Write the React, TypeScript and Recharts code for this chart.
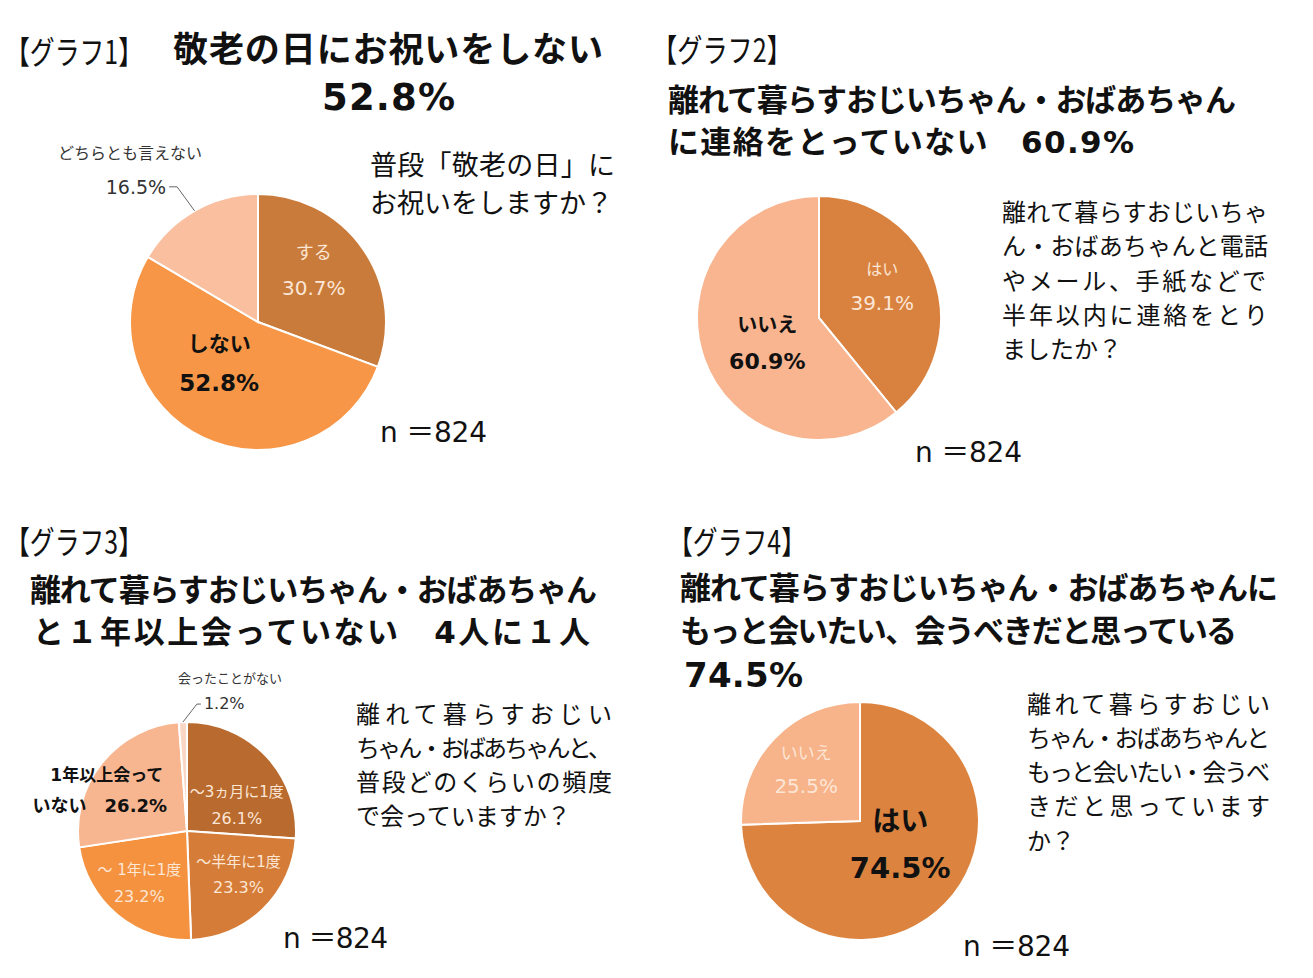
import React from "react"
import { PieChart, Pie, Cell } from "recharts"

const FONT_JP = '"Noto Sans CJK JP", sans-serif'
const FONT_MIX = '"DejaVu Sans", "Noto Sans CJK JP", sans-serif'

// グラフ1 敬老の日にお祝いをしますか
const g1Names = ["する", "しない", "どちらとも言えない"]
const g1Values = [30.7, 52.8, 16.5]

// グラフ2 半年以内に連絡をとりましたか
const g2Names = ["はい", "いいえ"]
const g2Values = [39.1, 60.9]

// グラフ3 会う頻度
const g3Names = ["～3ヵ月に1度", "～半年に1度", "～ 1年に1度", "1年以上会っていない", "会ったことがない"]
const g3Values = [26.1, 23.3, 23.2, 26.2, 1.2]

// グラフ4 もっと会いたいか
const g4Names = ["はい", "いいえ"]
const g4Values = [74.5, 25.5]

const g1Colors = ["#C97B3B", "#F79646", "#F9BF9E"]
const g2Colors = ["#D9823F", "#F8B58F"]
const g3Colors = ["#B96A2E", "#D47C38", "#F5923F", "#F8B690", "#FAD6C4"]
const g4Colors = ["#DC843F", "#F7B38A"]

const toRows = (names: string[], values: number[]) =>
  names.map((name, i) => ({ name, value: values[i] }))

type Outside = {
  ex: number
  ey: number
  tail: number
  vdx: number
  vdy: number
  anchor: "start" | "end"
  ndx: number
  ndy: number
  nameSize: number
  valueSize: number
}

type Spec = {
  k?: number
  dx?: number
  dy?: number
  gap?: number
  sizes?: [number, number]
  fill?: string
  bold?: boolean
  split?: number
  line1Dx?: number
  out?: Outside
}

const LIGHT = "#FCE6D6"
const DARK = "#111"

const g1Spec: Spec[] = [
  { k: 0.53, dy: -13, gap: 35, sizes: [18, 20], fill: LIGHT },
  { k: 0.45, dx: -14, dy: -10, gap: 39, sizes: [21, 23], fill: DARK, bold: true },
  { out: { ex: -17.5, ey: -24, tail: -8, vdx: -3, vdy: 0, anchor: "end", ndx: -64.5, ndy: -58.8, nameSize: 16, valueSize: 19 } },
]
const g2Spec: Spec[] = [
  { k: 0.55, dy: -9, gap: 33, sizes: [16, 20], fill: LIGHT },
  { k: 0.45, dy: 7, gap: 37, sizes: [20, 22], fill: DARK, bold: true },
]
const g3Spec: Spec[] = [
  { k: 0.6, dx: 2, dy: 19, gap: 26, sizes: [15, 16], fill: LIGHT },
  { k: 0.6, dx: 6, dy: -3, gap: 26, sizes: [15, 16], fill: LIGHT },
  { k: 0.6, dx: -6, dy: 2, gap: 26, sizes: [15, 16], fill: LIGHT },
  { k: 0.6, dx: -36, dy: 0, gap: 30, sizes: [17, 18], fill: DARK, bold: true, split: 7, line1Dx: 7 },
  { out: { ex: 14, ey: -18, tail: 4, vdx: 3, vdy: -1, anchor: "start", ndx: 47, ndy: -45, nameSize: 13, valueSize: 16 } },
]
const g4Spec: Spec[] = [
  { k: 0.47, dy: -15, gap: 46, sizes: [28, 29], fill: DARK, bold: true },
  { k: 0.63, dy: 1, gap: 33, sizes: [17, 20], fill: LIGHT },
]

const RAD = Math.PI / 180

function makeLabel(specs: Spec[]) {
  return (p: any) => {
    const s = specs[p.index]
    const cx = Number(p.cx)
    const cy = Number(p.cy)
    const r = Number(p.outerRadius)
    const cos = Math.cos(-p.midAngle * RAD)
    const sin = Math.sin(-p.midAngle * RAD)
    const name: string = p.name
    const pct = `${Number(p.value).toFixed(1)}%`

    if (s.out) {
      const o = s.out
      const x0 = cx + r * cos
      const y0 = cy + r * sin
      const x1 = x0 + o.ex
      const y1 = y0 + o.ey
      const x2 = x1 + o.tail
      return (
        <g>
          <polyline points={`${x0},${y0} ${x1},${y1} ${x2},${y1}`} fill="none" stroke="#666" strokeWidth={1} />
          <text x={x2 + o.vdx} y={y1 + o.vdy} fontSize={o.valueSize} fontFamily={FONT_MIX} fill="#333"
            textAnchor={o.anchor} dominantBaseline="central">{pct}</text>
          <text x={x0 + o.ndx} y={y0 + o.ndy} fontSize={o.nameSize} fontFamily={FONT_JP} fill="#333"
            textAnchor="middle" dominantBaseline="central">{name}</text>
        </g>
      )
    }

    const x = cx + r * (s.k ?? 0.5) * cos + (s.dx ?? 0)
    const y = cy + r * (s.k ?? 0.5) * sin + (s.dy ?? 0)
    const gap = s.gap ?? 30
    const [s1, s2] = s.sizes ?? [16, 18]
    const line1 = s.split ? name.slice(0, s.split) : name
    const line2 = s.split ? `${name.slice(s.split)}　${pct}` : pct
    const weight = s.bold ? 700 : 400
    return (
      <g>
        <text x={x + (s.line1Dx ?? 0)} y={y - gap / 2} fontSize={s1} fontWeight={weight} fontFamily={FONT_MIX}
          fill={s.fill} textAnchor="middle" dominantBaseline="central">{line1}</text>
        <text x={x} y={y + gap / 2} fontSize={s2} fontWeight={weight} fontFamily={FONT_MIX}
          fill={s.fill} textAnchor="middle" dominantBaseline="central">{line2}</text>
      </g>
    )
  }
}

type TxtProps = {
  x: number
  y: number
  size: number
  bold?: boolean
  len?: number
  squeeze?: boolean
  anchor?: "start" | "middle" | "end"
  family?: string
  children: React.ReactNode
}

function Txt({ x, y, size, bold, len, squeeze, anchor = "start", family = FONT_MIX, children }: TxtProps) {
  return (
    <text x={x} y={y} fontSize={size} fontWeight={bold ? 700 : 400} fontFamily={family} fill="#111"
      textAnchor={anchor} dominantBaseline="central" textLength={len}
      lengthAdjust={len ? (squeeze ? "spacingAndGlyphs" : "spacing") : undefined}>
      {children}
    </text>
  )
}

export default function App() {
  return (
    <div style={{ position: "absolute", left: 0, top: 0, width: 1313, height: 978, background: "#fff" }}>
      <PieChart width={1313} height={978} margin={{ top: 0, right: 0, bottom: 0, left: 0 }}>
        <Pie data={toRows(g1Names, g1Values)} dataKey="value" nameKey="name" cx={258} cy={322} outerRadius={128}
          startAngle={90} endAngle={-270} stroke="#fff" strokeWidth={2} label={makeLabel(g1Spec)} labelLine={false}
          isAnimationActive={false}>
          {g1Colors.map((c) => <Cell key={c} fill={c} />)}
        </Pie>
        <Pie data={toRows(g2Names, g2Values)} dataKey="value" nameKey="name" cx={819} cy={318} outerRadius={122}
          startAngle={90} endAngle={-270} stroke="#fff" strokeWidth={2} label={makeLabel(g2Spec)} labelLine={false}
          isAnimationActive={false}>
          {g2Colors.map((c) => <Cell key={c} fill={c} />)}
        </Pie>
        <Pie data={toRows(g3Names, g3Values)} dataKey="value" nameKey="name" cx={187} cy={831} outerRadius={109}
          startAngle={90} endAngle={-270} stroke="#fff" strokeWidth={2} label={makeLabel(g3Spec)} labelLine={false}
          isAnimationActive={false}>
          {g3Colors.map((c) => <Cell key={c} fill={c} />)}
        </Pie>
        <Pie data={toRows(g4Names, g4Values)} dataKey="value" nameKey="name" cx={860} cy={821} outerRadius={119}
          startAngle={90} endAngle={-270} stroke="#fff" strokeWidth={2} label={makeLabel(g4Spec)} labelLine={false}
          isAnimationActive={false}>
          {g4Colors.map((c) => <Cell key={c} fill={c} />)}
        </Pie>
      </PieChart>

      <svg width={1313} height={978} style={{ position: "absolute", left: 0, top: 0, pointerEvents: "none" }}>
        {/* グラフ1 */}
        <Txt x={5} y={50} size={32} len={138} squeeze family={FONT_JP}>【グラフ1】</Txt>
        <Txt x={173} y={50} size={35} bold len={430}>敬老の日にお祝いをしない</Txt>
        <Txt x={322} y={97} size={37} bold len={133}>52.8%</Txt>
        <Txt x={370} y={165} size={27} len={245}>普段「敬老の日」に</Txt>
        <Txt x={370} y={203} size={27} len={243}>お祝いをしますか？</Txt>
        <Txt x={380} y={432} size={28} len={107}>n ＝824</Txt>

        {/* グラフ2 */}
        <Txt x={652} y={48} size={32} len={140} squeeze family={FONT_JP}>【グラフ2】</Txt>
        <Txt x={668} y={100} size={31} bold len={568}>離れて暮らすおじいちゃん・おばあちゃん</Txt>
        <Txt x={668} y={142} size={31} bold len={466}>に連絡をとっていない　60.9%</Txt>
        <Txt x={1002} y={213} size={24} len={266}>離れて暮らすおじいちゃ</Txt>
        <Txt x={1002} y={247} size={24} len={266}>ん・おばあちゃんと電話</Txt>
        <Txt x={1002} y={282} size={24} len={264}>やメール、手紙などで</Txt>
        <Txt x={1002} y={316} size={24} len={266}>半年以内に連絡をとり</Txt>
        <Txt x={1002} y={350} size={24}>ましたか？</Txt>
        <Txt x={915} y={452} size={28} len={107}>n ＝824</Txt>

        {/* グラフ3 */}
        <Txt x={5} y={540} size={32} len={138} squeeze family={FONT_JP}>【グラフ3】</Txt>
        <Txt x={30} y={590} size={31} bold len={567}>離れて暮らすおじいちゃん・おばあちゃん</Txt>
        <Txt x={33} y={632} size={31} bold len={557}>と１年以上会っていない　4人に１人</Txt>
        <Txt x={356} y={715} size={24} len={256}>離れて暮らすおじい</Txt>
        <Txt x={356} y={749} size={24} len={256}>ちゃん・おばあちゃんと、</Txt>
        <Txt x={356} y={783} size={24} len={256}>普段どのくらいの頻度</Txt>
        <Txt x={356} y={817} size={24}>で会っていますか？</Txt>
        <Txt x={283} y={938} size={28} len={105}>n ＝824</Txt>

        {/* グラフ4 */}
        <Txt x={668} y={540} size={32} len={138} squeeze family={FONT_JP}>【グラフ4】</Txt>
        <Txt x={680} y={588} size={31} bold len={598}>離れて暮らすおじいちゃん・おばあちゃんに</Txt>
        <Txt x={680} y={631} size={31} bold len={557}>もっと会いたい、会うべきだと思っている</Txt>
        <Txt x={684} y={675} size={34} bold len={119}>74.5%</Txt>
        <Txt x={1027} y={705} size={24} len={243}>離れて暮らすおじい</Txt>
        <Txt x={1027} y={739} size={24} len={243}>ちゃん・おばあちゃんと</Txt>
        <Txt x={1027} y={773} size={24} len={243}>もっと会いたい・会うべ</Txt>
        <Txt x={1027} y={807} size={24} len={243}>きだと思っています</Txt>
        <Txt x={1027} y={842} size={24}>か？</Txt>
        <Txt x={963} y={946} size={28} len={107}>n ＝824</Txt>
      </svg>
    </div>
  )
}
